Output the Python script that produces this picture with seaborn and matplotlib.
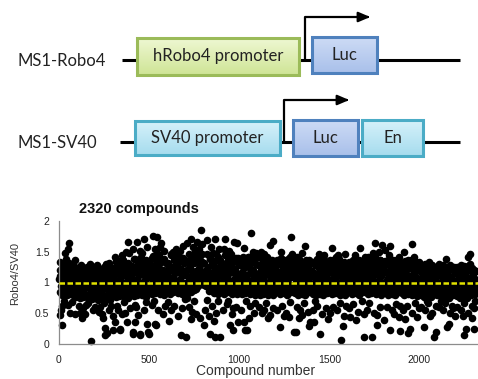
import matplotlib.pyplot as plt
from matplotlib.colors import LinearSegmentedColormap
from matplotlib.patches import Rectangle
import numpy as np
import seaborn as sns

sns.set_style("white")
plt.rcParams["font.family"] = ["Liberation Sans", "DejaVu Sans"]

# (compound number, Robo4/SV40) pairs, in chunks of 500 compounds
seg_0 = [
    (2, 1.05), (5, 0.84), (8, 1.21), (11, 0.95), (14, 1.12), (17, 0.79), (20, 1.28), (23, 0.99), (26, 0.88),
    (29, 1.17), (32, 1.03), (35, 0.82), (38, 1.25), (41, 0.92), (44, 1.08), (47, 0.86), (50, 1.19), (53, 0.97),
    (56, 1.31), (59, 0.81), (62, 1.10), (65, 0.94), (68, 1.23), (71, 0.85), (74, 1.01), (77, 1.15), (80, 0.90),
    (83, 1.27), (86, 0.78), (89, 1.06), (92, 0.96), (95, 1.20), (98, 0.87),
    (3, 0.47), (15, 0.31), (15, 0.62), (33, 1.48), (48, 1.54), (55, 1.65), (52, 0.64), (61, 0.51), (89, 0.48),
    (89, 1.37), (6, 1.33), (25, 0.70), (70, 0.68), (40, 1.38), (12, 0.55),
    (101, 1.02), (104, 0.80), (107, 1.18), (110, 0.91), (113, 1.09), (116, 0.74), (119, 1.24), (122, 0.97),
    (125, 0.85), (128, 1.13), (131, 1.00), (134, 0.77), (137, 1.21), (140, 0.89), (143, 1.05), (146, 0.82),
    (149, 1.16), (152, 0.94), (155, 1.25), (158, 0.76), (161, 1.07), (164, 0.92), (167, 1.19), (170, 0.81),
    (173, 0.99), (176, 1.11), (179, 0.87), (182, 1.22), (185, 0.73), (188, 1.04), (191, 0.93), (194, 1.15),
    (197, 0.84),
    (117, 0.50), (126, 0.42), (145, 0.48), (178, 0.05), (110, 0.62), (135, 0.58), (160, 0.66), (190, 0.55),
    (170, 1.30), (120, 1.28), (150, 0.63), (199, 0.60),
    (201, 1.00), (204, 0.79), (207, 1.17), (210, 0.88), (213, 1.08), (216, 0.72), (219, 1.23), (222, 0.95),
    (225, 0.83), (228, 1.12), (231, 0.98), (234, 0.75), (237, 1.20), (240, 0.87), (243, 1.03), (246, 0.80),
    (249, 1.15), (252, 0.92), (255, 1.24), (258, 0.74), (261, 1.06), (264, 0.90), (267, 1.18), (270, 0.78),
    (273, 0.97), (276, 1.10), (279, 0.85), (282, 1.21), (285, 0.71), (288, 1.02), (291, 0.93), (294, 1.14),
    (297, 0.82),
    (237, 0.48), (246, 0.42), (256, 0.26), (265, 0.18), (256, 0.15), (230, 0.60), (250, 0.66), (275, 0.55),
    (290, 0.62), (220, 0.52), (280, 1.32), (260, 1.30), (210, 1.29), (298, 0.45),
    (301, 1.05), (304, 0.81), (307, 1.24), (310, 0.93), (313, 1.14), (316, 0.76), (319, 1.35), (322, 1.00),
    (325, 0.86), (328, 1.19), (331, 1.04), (334, 0.78), (337, 1.30), (340, 0.91), (343, 1.10), (346, 0.83),
    (349, 1.22), (352, 0.97), (355, 1.37), (358, 0.77), (361, 1.12), (364, 0.95), (367, 1.27), (370, 0.82),
    (373, 1.01), (376, 1.17), (379, 0.89), (382, 1.32), (385, 0.75), (388, 1.08), (391, 0.96), (394, 1.25),
    (397, 0.85),
    (302, 0.23), (311, 0.36), (339, 0.23), (339, 0.25), (348, 0.48), (376, 0.36), (394, 0.58), (320, 0.62),
    (360, 0.68), (330, 0.55), (384, 1.66), (350, 1.45), (370, 1.50), (390, 1.48), (310, 1.42), (365, 0.50),
    (401, 1.07), (404, 0.82), (407, 1.27), (410, 0.94), (413, 1.16), (416, 0.78), (419, 1.39), (422, 1.02),
    (425, 0.88), (428, 1.21), (431, 1.06), (434, 0.80), (437, 1.33), (440, 0.92), (443, 1.12), (446, 0.85),
    (449, 1.25), (452, 0.98), (455, 1.41), (458, 0.79), (461, 1.14), (464, 0.96), (467, 1.30), (470, 0.84),
    (473, 1.03), (476, 1.19), (479, 0.90), (482, 1.36), (485, 0.77), (488, 1.10), (491, 0.97), (494, 1.28),
    (497, 0.86),
    (411, 0.17), (413, 0.20), (422, 0.36), (441, 0.47), (448, 0.14), (450, 0.16), (469, 0.55), (487, 0.33),
    (496, 0.20), (422, 0.64), (431, 1.66), (472, 1.70), (410, 1.55), (450, 1.52), (490, 1.58), (460, 1.48),
    (430, 0.60), (480, 0.68),
]

seg_1 = [
    (501, 1.09), (504, 0.84), (507, 1.30), (510, 0.96), (513, 1.18), (516, 0.81), (519, 1.43), (522, 1.04),
    (525, 0.90), (528, 1.24), (531, 1.08), (534, 0.83), (537, 1.36), (540, 0.94), (543, 1.14), (546, 0.87),
    (549, 1.28), (552, 1.00), (555, 1.44), (558, 0.82), (561, 1.16), (564, 0.98), (567, 1.33), (570, 0.86),
    (573, 1.05), (576, 1.21), (579, 0.92), (582, 1.39), (585, 0.80), (588, 1.12), (591, 0.99), (594, 1.31),
    (597, 0.88),
    (500, 0.17), (533, 0.33), (515, 0.64), (537, 0.31), (520, 1.76), (542, 1.74), (566, 1.65), (530, 1.55),
    (580, 1.52), (560, 1.58), (550, 0.55), (590, 0.62), (575, 0.48), (525, 0.70),
    (601, 1.10), (604, 0.85), (607, 1.31), (610, 0.97), (613, 1.19), (616, 0.82), (619, 1.44), (622, 1.05),
    (625, 0.91), (628, 1.25), (631, 1.09), (634, 0.84), (637, 1.37), (640, 0.95), (643, 1.15), (646, 0.88),
    (649, 1.29), (652, 1.01), (655, 1.45), (658, 0.83), (661, 1.17), (664, 0.99), (667, 1.34), (670, 0.87),
    (673, 1.06), (676, 1.22), (679, 0.93), (682, 1.40), (685, 0.81), (688, 1.13), (691, 1.00), (694, 1.32),
    (697, 0.89),
    (611, 0.37), (676, 0.15), (699, 0.73), (620, 0.55), (640, 0.62), (660, 0.45), (680, 0.58), (650, 1.55),
    (690, 1.60), (630, 1.50), (670, 1.52), (605, 0.68),
    (701, 1.12), (704, 0.86), (707, 1.33), (710, 0.98), (713, 1.21), (716, 0.83), (719, 1.47), (722, 1.06),
    (725, 0.92), (728, 1.27), (731, 1.10), (734, 0.85), (737, 1.40), (740, 0.96), (743, 1.17), (746, 0.89),
    (749, 1.31), (752, 1.03), (755, 1.49), (758, 0.90), (761, 1.19), (764, 1.02), (767, 1.36), (770, 0.95),
    (773, 1.08), (776, 1.24), (779, 0.98), (782, 1.43), (785, 1.05), (788, 1.15), (791, 1.01), (794, 1.34),
    (797, 0.97),
    (703, 0.12), (709, 1.64), (733, 1.70), (765, 1.66), (789, 1.85), (793, 1.62), (781, 0.42), (720, 0.60),
    (740, 0.52), (750, 0.70), (760, 0.48), (730, 0.40), (710, 0.75), (775, 1.55), (745, 1.58),
    (801, 1.11), (804, 0.96), (807, 1.32), (810, 1.02), (813, 1.20), (816, 0.94), (819, 1.46), (822, 1.05),
    (825, 0.99), (828, 1.26), (831, 1.09), (834, 0.86), (837, 1.39), (840, 0.95), (843, 1.16), (846, 0.88),
    (849, 1.30), (852, 1.02), (855, 1.48), (858, 0.83), (861, 1.18), (864, 0.98), (867, 1.35), (870, 0.87),
    (873, 1.07), (876, 1.23), (879, 0.93), (882, 1.42), (885, 0.82), (888, 1.14), (891, 1.00), (894, 1.33),
    (897, 0.90),
    (803, 0.31), (824, 1.69), (840, 0.17), (866, 0.11), (866, 1.70), (894, 0.12), (810, 0.55), (830, 0.45),
    (850, 0.62), (870, 0.50), (880, 0.70), (860, 0.38), (820, 0.72), (845, 1.58), (890, 1.55),
    (901, 1.10), (904, 0.85), (907, 1.31), (910, 0.97), (913, 1.19), (916, 0.82), (919, 1.45), (922, 1.04),
    (925, 0.91), (928, 1.25), (931, 1.08), (934, 0.84), (937, 1.37), (940, 0.94), (943, 1.15), (946, 0.87),
    (949, 1.29), (952, 1.01), (955, 1.46), (958, 0.82), (961, 1.17), (964, 0.98), (967, 1.34), (970, 0.86),
    (973, 1.05), (976, 1.22), (979, 0.92), (982, 1.40), (985, 0.81), (988, 1.13), (991, 0.99), (994, 1.32),
    (997, 0.88),
    (922, 1.70), (950, 0.31), (968, 0.23), (968, 0.58), (972, 1.66), (987, 1.65), (996, 0.36), (910, 0.55),
    (930, 0.65), (960, 0.48), (980, 0.60), (940, 0.70), (915, 1.55), (945, 1.52),
]

seg_2 = [
    (1001, 1.08), (1004, 0.84), (1007, 1.29), (1010, 0.96), (1013, 1.17), (1016, 0.81), (1019, 1.41),
    (1022, 1.03), (1025, 0.90), (1028, 1.23), (1031, 1.07), (1034, 0.83), (1037, 1.35), (1040, 0.93),
    (1043, 1.13), (1046, 0.86), (1049, 1.27), (1052, 0.99), (1055, 1.42), (1058, 0.81), (1061, 1.15),
    (1064, 0.97), (1067, 1.32), (1070, 0.85), (1073, 1.04), (1076, 1.20), (1079, 0.91), (1082, 1.38),
    (1085, 0.80), (1088, 1.11), (1091, 0.98), (1094, 1.30), (1097, 0.87),
    (1024, 1.56), (1024, 0.36), (1033, 0.23), (1042, 0.23), (1052, 0.42), (1065, 1.81), (1010, 0.55),
    (1060, 0.62), (1080, 0.50), (1090, 0.66), (1040, 0.70), (1075, 1.50), (1095, 1.48),
    (1101, 1.07), (1104, 0.83), (1107, 1.28), (1110, 0.95), (1113, 1.16), (1116, 0.80), (1119, 1.40),
    (1122, 1.02), (1125, 0.89), (1128, 1.22), (1131, 1.06), (1134, 0.82), (1137, 1.34), (1140, 0.92),
    (1143, 1.12), (1146, 0.85), (1149, 1.26), (1152, 0.98), (1155, 1.41), (1158, 0.80), (1161, 1.14),
    (1164, 0.96), (1167, 1.31), (1170, 0.84), (1173, 1.03), (1176, 1.19), (1179, 0.90), (1182, 1.37),
    (1185, 0.79), (1188, 1.10), (1191, 0.97), (1194, 1.29), (1197, 0.86),
    (1126, 0.50), (1169, 1.61), (1172, 0.47), (1187, 1.67), (1110, 0.60), (1140, 0.55), (1150, 0.66),
    (1190, 0.58), (1120, 1.50), (1160, 0.42), (1135, 1.47),
    (1201, 0.93), (1204, 1.21), (1207, 0.84), (1210, 1.36), (1213, 1.02), (1216, 0.88), (1219, 1.15),
    (1222, 1.30), (1225, 0.81), (1228, 1.07), (1231, 1.40), (1234, 0.95), (1237, 1.18), (1240, 0.86),
    (1243, 1.25), (1246, 1.00), (1249, 0.83), (1252, 1.33), (1255, 1.11), (1258, 0.91), (1261, 1.22),
    (1264, 0.80), (1267, 1.04), (1270, 1.38), (1273, 0.89), (1276, 1.14), (1279, 0.97), (1282, 1.27),
    (1285, 0.85), (1288, 1.09), (1291, 1.34), (1294, 0.94), (1297, 1.19),
    (1224, 0.27), (1274, 0.44), (1287, 1.74), (1293, 1.47), (1210, 0.55), (1240, 0.62), (1260, 0.50),
    (1280, 0.68), (1230, 1.50), (1250, 0.45),
    (1301, 0.92), (1304, 1.20), (1307, 0.83), (1310, 1.35), (1313, 1.01), (1316, 0.87), (1319, 1.14),
    (1322, 1.29), (1325, 0.80), (1328, 1.06), (1331, 1.39), (1334, 0.94), (1337, 1.17), (1340, 0.85),
    (1343, 1.24), (1346, 0.99), (1349, 0.82), (1352, 1.32), (1355, 1.10), (1358, 0.90), (1361, 1.21),
    (1364, 0.79), (1367, 1.03), (1370, 1.37), (1373, 0.88), (1376, 1.13), (1379, 0.96), (1382, 1.26),
    (1385, 0.84), (1388, 1.08), (1391, 1.33), (1394, 0.93), (1397, 1.18),
    (1302, 0.20), (1317, 0.19), (1348, 0.47), (1367, 1.59), (1389, 0.29), (1394, 0.36), (1320, 0.60),
    (1340, 0.55), (1360, 0.66), (1380, 0.52), (1350, 1.48), (1330, 0.42),
    (1401, 0.91), (1404, 1.19), (1407, 0.82), (1410, 1.34), (1413, 1.00), (1416, 0.86), (1419, 1.13),
    (1422, 1.28), (1425, 0.80), (1428, 1.05), (1431, 1.38), (1434, 0.93), (1437, 1.16), (1440, 0.84),
    (1443, 1.23), (1446, 0.98), (1449, 0.81), (1452, 1.31), (1455, 1.09), (1458, 0.89), (1461, 1.20),
    (1464, 0.79), (1467, 1.02), (1470, 1.36), (1473, 0.87), (1476, 1.12), (1479, 0.95), (1482, 1.25),
    (1485, 0.83), (1488, 1.07), (1491, 1.32), (1494, 0.92), (1497, 1.17),
    (1441, 1.47), (1446, 0.17), (1410, 0.55), (1430, 0.62), (1460, 0.48), (1480, 0.58), (1420, 0.70),
    (1490, 0.40), (1470, 1.45), (1415, 0.35),
]

seg_3 = [
    (1501, 1.04), (1504, 0.85), (1507, 1.27), (1510, 0.96), (1513, 1.15), (1516, 0.81), (1519, 1.36),
    (1522, 1.01), (1525, 0.89), (1528, 1.21), (1531, 1.06), (1534, 0.83), (1537, 1.31), (1540, 0.93),
    (1543, 1.11), (1546, 0.86), (1549, 1.24), (1552, 0.98), (1555, 1.38), (1558, 0.80), (1561, 1.13),
    (1564, 0.95), (1567, 1.29), (1570, 0.84), (1573, 1.02), (1576, 1.18), (1579, 0.90), (1582, 1.34),
    (1585, 0.79), (1588, 1.09), (1591, 0.97), (1594, 1.26), (1597, 0.87),
    (1505, 0.50), (1515, 1.56), (1565, 0.07), (1576, 0.29), (1589, 1.47), (1520, 0.60), (1540, 0.55),
    (1560, 0.66), (1580, 0.45), (1595, 0.62), (1550, 1.45),
    (1601, 0.94), (1604, 1.22), (1607, 0.85), (1610, 1.33), (1613, 1.03), (1616, 0.88), (1619, 1.16),
    (1622, 1.29), (1625, 0.81), (1628, 1.08), (1631, 1.37), (1634, 0.96), (1637, 1.19), (1640, 0.86),
    (1643, 1.26), (1646, 1.01), (1649, 0.83), (1652, 1.31), (1655, 1.12), (1658, 0.91), (1661, 1.23),
    (1664, 0.80), (1667, 1.05), (1670, 1.35), (1673, 0.89), (1676, 1.15), (1679, 0.97), (1682, 1.28),
    (1685, 0.85), (1688, 1.10), (1691, 1.32), (1694, 0.95), (1697, 1.20),
    (1617, 0.44), (1650, 0.39), (1672, 1.56), (1694, 0.12), (1610, 0.58), (1630, 0.65), (1660, 0.52),
    (1680, 0.70), (1640, 1.45), (1690, 0.48),
    (1701, 1.05), (1704, 0.84), (1707, 1.28), (1710, 0.97), (1713, 1.16), (1716, 0.82), (1719, 1.39),
    (1722, 1.02), (1725, 0.90), (1728, 1.22), (1731, 1.07), (1734, 0.83), (1737, 1.33), (1740, 0.94),
    (1743, 1.12), (1746, 0.87), (1749, 1.25), (1752, 0.99), (1755, 1.41), (1758, 0.81), (1761, 1.14),
    (1764, 0.96), (1767, 1.30), (1770, 0.85), (1773, 1.03), (1776, 1.19), (1779, 0.91), (1782, 1.36),
    (1785, 0.80), (1788, 1.10), (1791, 0.98), (1794, 1.27), (1797, 0.88),
    (1737, 0.12), (1756, 1.64), (1765, 0.31), (1765, 0.47), (1793, 1.61), (1710, 0.55), (1720, 0.66),
    (1750, 0.50), (1780, 0.60), (1740, 1.48), (1775, 1.50),
    (1801, 0.93), (1804, 1.21), (1807, 0.84), (1810, 1.35), (1813, 1.02), (1816, 0.87), (1819, 1.15),
    (1822, 1.30), (1825, 0.80), (1828, 1.07), (1831, 1.38), (1834, 0.95), (1837, 1.18), (1840, 0.85),
    (1843, 1.25), (1846, 1.00), (1849, 0.82), (1852, 1.32), (1855, 1.11), (1858, 0.90), (1861, 1.22),
    (1864, 0.79), (1867, 1.04), (1870, 1.36), (1873, 0.88), (1876, 1.14), (1879, 0.96), (1882, 1.27),
    (1885, 0.84), (1888, 1.09), (1891, 1.33), (1894, 0.93), (1897, 1.19),
    (1802, 0.39), (1811, 1.53), (1835, 0.23), (1839, 1.59), (1885, 0.44), (1894, 0.21), (1820, 0.60),
    (1850, 0.55), (1870, 0.65), (1860, 0.48), (1890, 0.62), (1830, 1.45),
    (1901, 1.03), (1904, 0.83), (1907, 1.26), (1910, 0.95), (1913, 1.14), (1916, 0.80), (1919, 1.35),
    (1922, 1.00), (1925, 0.88), (1928, 1.20), (1931, 1.05), (1934, 0.82), (1937, 1.30), (1940, 0.92),
    (1943, 1.10), (1946, 0.85), (1949, 1.23), (1952, 0.97), (1955, 1.37), (1958, 0.79), (1961, 1.12),
    (1964, 0.94), (1967, 1.28), (1970, 0.83), (1973, 1.01), (1976, 1.17), (1979, 0.89), (1982, 1.33),
    (1985, 0.78), (1988, 1.08), (1991, 0.96), (1994, 1.24), (1997, 0.86),
    (1913, 1.50), (1935, 0.18), (1950, 0.25), (1956, 1.62), (1987, 0.44), (1910, 0.55), (1930, 0.62),
    (1960, 0.50), (1975, 0.66), (1995, 0.58), (1920, 0.40),
]

seg_4 = [
    (2001, 0.92), (2004, 1.18), (2007, 0.80), (2010, 1.28), (2013, 1.00), (2016, 0.84), (2019, 1.12),
    (2022, 1.25), (2025, 0.77), (2028, 1.04), (2031, 1.30), (2034, 0.90), (2037, 1.15), (2040, 0.82),
    (2043, 1.21), (2046, 0.97), (2049, 0.79), (2052, 1.27), (2055, 1.07), (2058, 0.87), (2061, 1.19),
    (2064, 0.76), (2067, 1.01), (2070, 1.29), (2073, 0.85), (2076, 1.10), (2079, 0.93), (2082, 1.23),
    (2085, 0.81), (2088, 1.05), (2091, 1.26), (2094, 0.89), (2097, 1.16),
    (2024, 0.28), (2052, 1.34), (2080, 0.12), (2094, 0.20), (2010, 0.60), (2030, 0.55), (2050, 0.66),
    (2070, 0.50), (2090, 0.62), (2040, 0.70), (2060, 0.45),
    (2101, 0.91), (2104, 1.17), (2107, 0.79), (2110, 1.27), (2113, 0.99), (2116, 0.83), (2119, 1.11),
    (2122, 1.24), (2125, 0.76), (2128, 1.03), (2131, 1.29), (2134, 0.89), (2137, 1.14), (2140, 0.81),
    (2143, 1.20), (2146, 0.96), (2149, 0.78), (2152, 1.26), (2155, 1.06), (2158, 0.86), (2161, 1.18),
    (2164, 0.75), (2167, 1.00), (2170, 1.28), (2173, 0.84), (2176, 1.09), (2179, 0.92), (2182, 1.22),
    (2185, 0.80), (2188, 1.04), (2191, 1.25), (2194, 0.88), (2197, 1.15),
    (2150, 1.39), (2154, 0.28), (2163, 0.33), (2110, 0.60), (2130, 0.55), (2140, 0.66), (2170, 0.50),
    (2180, 0.62), (2195, 0.45), (2120, 0.70), (2185, 0.58),
    (2201, 0.90), (2204, 1.16), (2207, 0.78), (2210, 1.26), (2213, 0.98), (2216, 0.82), (2219, 1.10),
    (2222, 1.23), (2225, 0.75), (2228, 1.02), (2231, 1.28), (2234, 0.88), (2237, 1.13), (2240, 0.80),
    (2243, 1.19), (2246, 0.95), (2249, 0.77), (2252, 1.25), (2255, 1.05), (2258, 0.85), (2261, 1.17),
    (2264, 0.74), (2267, 0.99), (2270, 1.27), (2273, 0.83), (2276, 1.08), (2279, 0.91), (2282, 1.21),
    (2285, 0.79), (2288, 1.03), (2291, 1.24), (2294, 0.87), (2297, 1.14), (2300, 0.96), (2303, 1.20),
    (2306, 0.82), (2309, 1.06), (2312, 0.92), (2315, 1.18), (2318, 0.86),
    (2246, 0.15), (2256, 0.25), (2269, 1.42), (2283, 1.46), (2293, 0.42), (2302, 0.25), (2210, 0.60),
    (2230, 0.55), (2250, 0.66), (2270, 0.50), (2290, 0.62), (2310, 0.70), (2240, 0.45), (2305, 0.58),
]

# more compounds inside the solid band (the band is fully black in the original)
seg_band = [
    (6, 1.10), (14, 1.24), (22, 0.93), (30, 1.18), (39, 1.02), (47, 0.80), (55, 0.88), (63, 1.14), (72, 1.26),
    (80, 0.97), (88, 1.07), (96, 0.76),
    (106, 0.97), (114, 1.07), (122, 0.76), (130, 1.10), (139, 1.24), (147, 0.93), (155, 1.18), (163, 1.02),
    (172, 0.80), (180, 0.88), (188, 1.14), (196, 1.26),
    (206, 1.18), (214, 1.02), (222, 0.80), (230, 0.88), (239, 1.14), (247, 1.26), (255, 0.97), (263, 1.07),
    (272, 0.76), (280, 1.10), (288, 1.24), (296, 0.93),
    (306, 1.12), (314, 1.34), (322, 0.96), (330, 1.24), (339, 1.06), (347, 1.38), (355, 0.90), (363, 1.18),
    (372, 1.30), (380, 1.00), (388, 1.15), (396, 0.84),
    (406, 1.06), (414, 1.38), (422, 0.90), (430, 1.18), (439, 1.30), (447, 1.00), (455, 1.15), (463, 0.84),
    (472, 1.12), (480, 1.34), (488, 0.96), (496, 1.24),
    (506, 1.14), (514, 1.40), (522, 0.98), (530, 1.28), (539, 1.08), (547, 1.46), (555, 0.91), (563, 1.22),
    (572, 1.36), (580, 1.03), (588, 1.18), (596, 0.87),
    (606, 1.28), (614, 1.08), (622, 1.46), (630, 0.91), (639, 1.22), (647, 1.36), (655, 1.03), (663, 1.18),
    (672, 0.87), (680, 1.14), (688, 1.40), (696, 0.98),
    (706, 0.91), (714, 1.22), (722, 1.36), (730, 1.03), (739, 1.18), (747, 0.87), (755, 1.14), (763, 1.40),
    (772, 0.98), (780, 1.28), (788, 1.08), (796, 1.46),
    (806, 1.03), (814, 1.18), (822, 1.07), (830, 1.14), (839, 1.40), (847, 0.98), (855, 1.28), (863, 1.08),
    (872, 1.46), (880, 0.91), (888, 1.22), (896, 1.36),
    (906, 0.98), (914, 1.28), (922, 1.08), (930, 1.46), (939, 0.91), (947, 1.22), (955, 1.36), (963, 1.03),
    (972, 1.18), (980, 0.87), (988, 1.14), (996, 1.40),
    (1006, 1.13), (1014, 1.37), (1022, 0.97), (1030, 1.26), (1039, 1.07), (1047, 1.41), (1055, 0.90),
    (1063, 1.20), (1072, 1.33), (1080, 1.02), (1088, 1.16), (1096, 0.86),
    (1106, 1.41), (1114, 0.90), (1122, 1.20), (1130, 1.33), (1139, 1.02), (1147, 1.16), (1155, 0.86),
    (1163, 1.13), (1172, 1.37), (1180, 0.97), (1188, 1.26), (1196, 1.07),
    (1206, 1.33), (1214, 1.02), (1222, 1.16), (1230, 0.86), (1239, 1.13), (1247, 1.37), (1255, 0.97),
    (1263, 1.26), (1272, 1.07), (1280, 1.41), (1288, 0.90), (1296, 1.20),
    (1306, 1.26), (1314, 1.07), (1322, 1.41), (1330, 0.90), (1339, 1.20), (1347, 1.33), (1355, 1.02),
    (1363, 1.16), (1372, 0.86), (1380, 1.13), (1388, 1.37), (1396, 0.97),
    (1406, 1.16), (1414, 0.86), (1422, 1.13), (1430, 1.37), (1439, 0.97), (1447, 1.26), (1455, 1.07),
    (1463, 1.41), (1472, 0.90), (1480, 1.20), (1488, 1.33), (1496, 1.02),
    (1506, 1.37), (1514, 0.97), (1522, 1.26), (1530, 1.07), (1539, 1.41), (1547, 0.90), (1555, 1.20),
    (1563, 1.33), (1572, 1.02), (1580, 1.16), (1588, 0.86), (1596, 1.13),
    (1606, 0.90), (1614, 1.20), (1622, 1.33), (1630, 1.02), (1639, 1.16), (1647, 0.86), (1655, 1.13),
    (1663, 1.37), (1672, 0.97), (1680, 1.26), (1688, 1.07), (1696, 1.41),
    (1706, 1.07), (1714, 1.41), (1722, 0.90), (1730, 1.20), (1739, 1.33), (1747, 1.02), (1755, 1.16),
    (1763, 0.86), (1772, 1.13), (1780, 1.37), (1788, 0.97), (1796, 1.26),
    (1806, 1.20), (1814, 1.33), (1822, 1.02), (1830, 1.16), (1839, 0.86), (1847, 1.13), (1855, 1.37),
    (1863, 0.97), (1872, 1.26), (1880, 1.07), (1888, 1.41), (1896, 0.90),
    (1906, 1.02), (1914, 1.16), (1922, 0.86), (1930, 1.13), (1939, 1.37), (1947, 0.97), (1955, 1.26),
    (1963, 1.07), (1972, 1.41), (1980, 0.90), (1988, 1.20), (1996, 1.33),
    (2006, 1.08), (2014, 1.27), (2022, 0.93), (2030, 1.20), (2039, 1.02), (2047, 1.30), (2055, 0.86),
    (2063, 1.14), (2072, 1.24), (2080, 0.97), (2088, 1.10), (2096, 0.80),
    (2106, 1.30), (2114, 0.86), (2122, 1.14), (2130, 1.24), (2139, 0.97), (2147, 1.10), (2155, 0.80),
    (2163, 1.08), (2172, 1.27), (2180, 0.93), (2188, 1.20), (2196, 1.02),
    (2206, 1.24), (2214, 0.97), (2222, 1.10), (2230, 0.80), (2239, 1.08), (2247, 1.27), (2255, 0.93),
    (2263, 1.20), (2272, 1.02), (2280, 1.30), (2288, 0.86), (2296, 1.14),
]

all_segments = (seg_0, seg_1, seg_2, seg_3, seg_4, seg_band)
compound_no = [p[0] for seg in all_segments for p in seg]
ratio = [p[1] for seg in all_segments for p in seg]

y_ticks = [0, 0.5, 1, 1.5, 2]
y_tick_labels = ["0", "0.5", "1", "1.5", "2"]
x_ticks = [0, 500, 1000, 1500, 2000]

fig = plt.figure(figsize=(4.78, 3.79), dpi=100)

# --- reporter construct schematic (drawn in pixel units) ---
sk = fig.add_axes([0, 189 / 379, 1, 190 / 379])
sk.axis("off")

schem_font = ["Lato", "DejaVu Sans"]
green = ("#eef7d2", "#cfe596", "#9bbb59")
blue = ("#cddbf5", "#a9c0ea", "#4f81bd")
cyan = ("#d5f1fa", "#a6dcee", "#4bacc6")

# backbone lines
sk.plot([122, 460], [60, 60], color="black", lw=2.2, solid_capstyle="butt")
sk.plot([120, 460], [142, 142], color="black", lw=2.2, solid_capstyle="butt")

grad = np.linspace(0, 1, 32).reshape(-1, 1)
boxes = [
    ("hRobo4 promoter", 137, 38, 162, 37, green),
    ("Luc", 312, 37, 65, 36, blue),
    ("SV40 promoter", 135, 121, 145, 34, cyan),
    ("Luc", 293, 120, 65, 36, blue),
    ("En", 362, 120, 61, 36, cyan),
]
for label, bx, by, bw, bh, (top, bottom, ec) in boxes:
    cmap = LinearSegmentedColormap.from_list("box", [top, bottom])
    sk.imshow(grad, extent=(bx, bx + bw, by + bh, by), cmap=cmap, aspect="auto", zorder=2.5)
    sk.add_patch(Rectangle((bx, by), bw, bh, facecolor="none", edgecolor=ec, lw=2.2, zorder=3))
    sk.text(bx + bw / 2, by + bh / 2, label, ha="center", va="center", fontsize=12,
            family=schem_font, color="#222222", zorder=4)

# transcription start arrows
for ax0, y0, y1, x1 in [(305, 60, 17, 373), (284, 142, 100, 352)]:
    sk.plot([ax0, ax0, x1 - 8], [y0, y1, y1], color="black", lw=1.6, zorder=2)
    sk.annotate("", xy=(x1, y1), xytext=(x1 - 10, y1),
                arrowprops=dict(arrowstyle="-|>,head_length=0.7,head_width=0.3", color="black", lw=1.6))

sk.text(18, 61, "MS1-Robo4", ha="left", va="center", fontsize=12, family=schem_font, color="#222222")
sk.text(18, 143, "MS1-SV40", ha="left", va="center", fontsize=12, family=schem_font, color="#222222")
sk.set_xlim(0, 478)
sk.set_ylim(190, 0)

# --- screening scatter ---
ax = fig.add_axes([59 / 478, 35 / 379, 419 / 478, 123 / 379])
sns.scatterplot(x=compound_no, y=ratio, color="black", s=30, linewidth=0, ax=ax, legend=False,
                clip_on=False, zorder=2)
ax.axhline(1, color="#e2e200", lw=1.8, ls=(0, (2.2, 1.0)), zorder=3)

ax.set_xlim(0, 2325)
ax.set_ylim(0, 2)
ax.set_xticks(x_ticks)
ax.set_xticklabels([str(t) for t in x_ticks])
ax.set_yticks(y_ticks)
ax.set_yticklabels(y_tick_labels)
ax.tick_params(axis="y", length=3, width=0.8, color="#8c8c8c", pad=4, labelsize=7.5, labelcolor="#222222")
ax.tick_params(axis="x", length=0, pad=8, labelsize=7.5, labelcolor="#222222")
sns.despine(ax=ax)
for side in ("left", "bottom"):
    ax.spines[side].set_color("#8c8c8c")
    ax.spines[side].set_linewidth(0.9)

ax.set_ylabel("Robo4/SV40", fontsize=8, color="#333333")
ax.yaxis.set_label_coords(-0.093, 0.57)
ax.set_xlabel("Compound number", fontsize=10, color="#333333")
ax.xaxis.set_label_coords(0.469, -0.165)
ax.text(0.048, 1.1, "2320 compounds", transform=ax.transAxes, ha="left", va="center",
        fontsize=10.5, fontweight="bold", color="#111111")

fig.savefig("out.png", dpi=100)
